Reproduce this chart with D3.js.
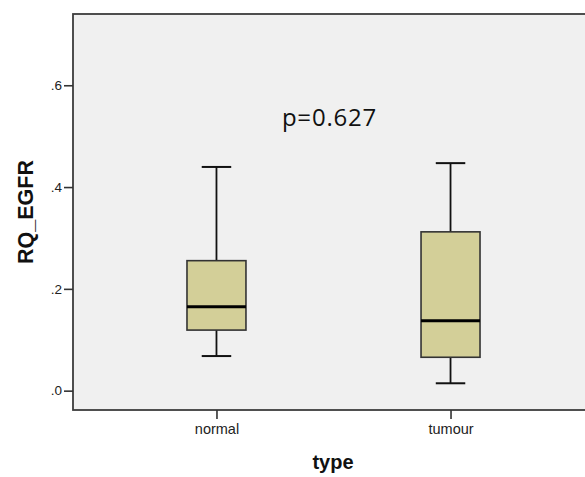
<!DOCTYPE html>
<html>
<head>
<meta charset="utf-8">
<script src="https://cdn.jsdelivr.net/npm/d3@7"></script>
<style>
  body { margin: 0; background: #fff; }
  svg { display: block; }
</style>
</head>
<body>
<svg width="585" height="477"></svg>
<script>
// Box plot summaries
const groups = ['normal', 'tumour']
const whiskerLow = [0.068, 0.0145]
const q1 = [0.119, 0.0656]
const median = [0.165, 0.1375]
const q3 = [0.2554, 0.312]
const whiskerHigh = [0.4395, 0.447]
const yTicks = [0, 0.2, 0.4, 0.6]
const yTickLabels = ['.0', '.2', '.4', '.6']
const pValueText = 'p=0.627'

const svg = d3.select('svg')

// Plot frame runs past the right edge of the window, as in the original
const frame = { left: 73, right: 594, top: 14, bottom: 410 }

const x = d3.scalePoint()
  .domain(groups)
  .range([frame.left, frame.right])
  .padding(0.613)

const y = d3.scaleLinear()
  .domain([-0.038, 0.74])
  .range([frame.bottom, frame.top])

const boxWidth = x.step() * 0.252
const capWidth = boxWidth / 2

svg.append('rect')
  .attr('x', frame.left)
  .attr('y', frame.top)
  .attr('width', frame.right - frame.left)
  .attr('height', frame.bottom - frame.top)
  .attr('fill', '#f0f0f0')
  .attr('stroke', '#3c3c3c')
  .attr('stroke-width', 1.8)

// y axis (ticks + labels only, frame drawn above)
const yAxis = svg.append('g')
  .attr('transform', `translate(${frame.left},0)`)
  .call(d3.axisLeft(y)
    .tickValues(yTicks)
    .tickFormat((d, i) => yTickLabels[i])
    .tickSize(9)
    .tickSizeOuter(0)
    .tickPadding(2))
yAxis.select('.domain').remove()
yAxis.selectAll('line').attr('stroke', '#333').attr('stroke-width', 1.6)
yAxis.selectAll('text')
  .attr('font-family', 'Liberation Sans, Arial, sans-serif')
  .attr('font-size', 13.5)
  .attr('fill', '#222')

const xAxis = svg.append('g')
  .attr('transform', `translate(0,${frame.bottom})`)
  .call(d3.axisBottom(x).tickSize(9).tickSizeOuter(0).tickPadding(5))
xAxis.select('.domain').remove()
xAxis.selectAll('line').attr('stroke', '#333').attr('stroke-width', 1.6)
xAxis.selectAll('text')
  .attr('font-family', 'Liberation Sans, Arial, sans-serif')
  .attr('font-size', 14.5)
  .attr('fill', '#222')

// Boxes
const box = svg.append('g')
  .selectAll('g')
  .data(groups)
  .join('g')

box.append('line')
  .attr('x1', (d) => x(d))
  .attr('x2', (d) => x(d))
  .attr('y1', (d, i) => y(whiskerHigh[i]))
  .attr('y2', (d, i) => y(whiskerLow[i]))
  .attr('stroke', '#111')
  .attr('stroke-width', 1.8)

box.append('line')
  .attr('x1', (d) => x(d) - capWidth / 2)
  .attr('x2', (d) => x(d) + capWidth / 2)
  .attr('y1', (d, i) => y(whiskerHigh[i]))
  .attr('y2', (d, i) => y(whiskerHigh[i]))
  .attr('stroke', '#111')
  .attr('stroke-width', 2)

box.append('line')
  .attr('x1', (d) => x(d) - capWidth / 2)
  .attr('x2', (d) => x(d) + capWidth / 2)
  .attr('y1', (d, i) => y(whiskerLow[i]))
  .attr('y2', (d, i) => y(whiskerLow[i]))
  .attr('stroke', '#111')
  .attr('stroke-width', 2)

box.append('rect')
  .attr('x', (d) => x(d) - boxWidth / 2)
  .attr('width', boxWidth)
  .attr('y', (d, i) => y(q3[i]))
  .attr('height', (d, i) => y(q1[i]) - y(q3[i]))
  .attr('fill', '#d3cf98')
  .attr('stroke', '#333')
  .attr('stroke-width', 1.6)

box.append('line')
  .attr('x1', (d) => x(d) - boxWidth / 2)
  .attr('x2', (d) => x(d) + boxWidth / 2)
  .attr('y1', (d, i) => y(median[i]))
  .attr('y2', (d, i) => y(median[i]))
  .attr('stroke', '#000')
  .attr('stroke-width', 3)

// p-value annotation
svg.append('text')
  .attr('x', (x(groups[0]) + x(groups[1])) / 2 - 4)
  .attr('y', y(0.519))
  .attr('text-anchor', 'middle')
  .attr('font-family', 'Open Sans, sans-serif')
  .attr('font-size', 24)
  .attr('letter-spacing', 0.8)
  .attr('fill', '#111')
  .text(pValueText)

// Axis titles
svg.append('text')
  .attr('x', 333)
  .attr('y', 469)
  .attr('text-anchor', 'middle')
  .attr('font-family', 'Liberation Sans, Arial, sans-serif')
  .attr('font-weight', 'bold')
  .attr('font-size', 20)
  .attr('fill', '#111')
  .text('type')

svg.append('text')
  .attr('transform', 'translate(33,212) rotate(-90)')
  .attr('text-anchor', 'middle')
  .attr('font-family', 'Liberation Sans, Arial, sans-serif')
  .attr('font-weight', 'bold')
  .attr('font-size', 21.5)
  .attr('fill', '#111')
  .text('RQ_EGFR')
</script>
</body>
</html>
